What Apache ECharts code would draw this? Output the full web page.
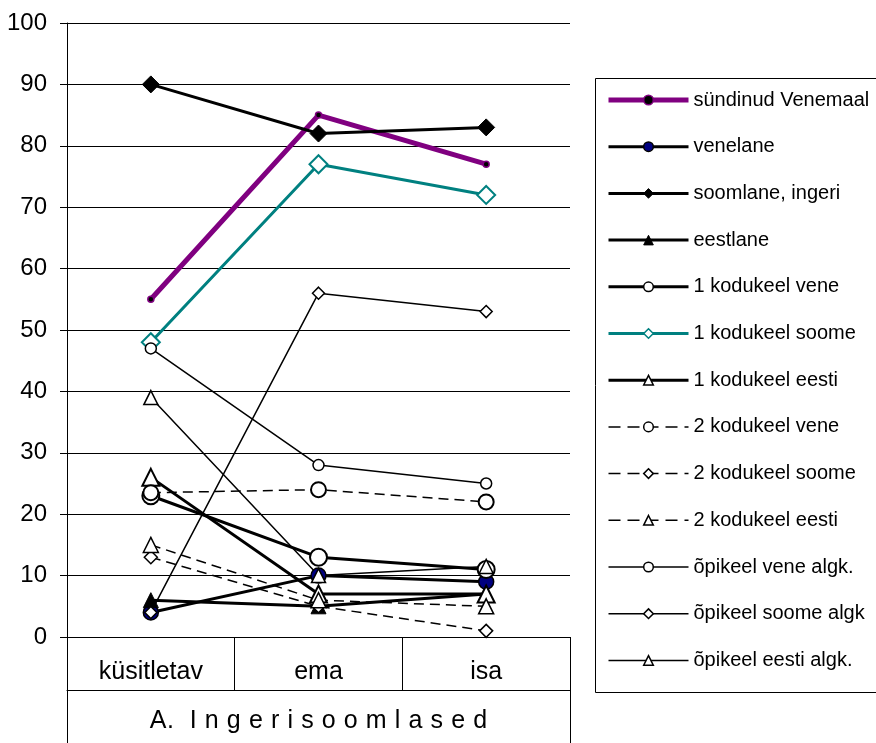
<!DOCTYPE html>
<html>
<head>
<meta charset="utf-8">
<script src="https://cdn.jsdelivr.net/npm/echarts@6/dist/echarts.min.js"></script>
<style>
  html, body { margin: 0; padding: 0; background: #fff; }
  #chart { width: 876px; height: 743px; }
</style>
</head>
<body>
<div id="chart"></div>
<script>
// Categories and group label
const categories = ['küsitletav', 'ema', 'isa'];
const groupLabel = ['A.  I n g e r i s o o m l a s e d'];
const yTicks = [0, 10, 20, 30, 40, 50, 60, 70, 80, 90, 100];

// Series values (%)
const sundinudVenemaal = [55, 85, 77];
const venelane         = [4, 10, 9];
const soomlaneIngeri   = [90, 82, 83];
const eestlane         = [6, 5, 7];
const kodukeel1Vene    = [23, 13, 11];
const kodukeel1Soome   = [48, 77, 72];
const kodukeel1Eesti   = [26, 7, 7];
const kodukeel2Vene    = [23.5, 24, 22];
const kodukeel2Soome   = [13, 5, 1];
const kodukeel2Eesti   = [15, 6, 5];
const opikeelVene      = [47, 28, 25];
const opikeelSoome     = [4, 56, 53];
const opikeelEesti     = [39, 10, 11.5];

const FONT = '"Liberation Sans", Arial, sans-serif';
const DASH = [10, 6];

const defs = [
  { name: 'sündinud Venemaal', data: sundinudVenemaal, color: '#800080', width: 5, symbol: 'circle', size: 6, fill: '#000', border: '#800080', bw: 1.5 },
  { name: 'venelane', data: venelane, color: '#000', width: 3, symbol: 'circle', size: 15, fill: '#000080', border: '#000', bw: 1.5 },
  { name: 'soomlane, ingeri', data: soomlaneIngeri, color: '#000', width: 3, symbol: 'diamond', size: 17, fill: '#000', border: '#000', bw: 1 },
  { name: 'eestlane', data: eestlane, color: '#000', width: 3, symbol: 'triangle', size: 15, fill: '#000', border: '#000', bw: 1 },
  { name: '1 kodukeel vene', data: kodukeel1Vene, color: '#000', width: 3, symbol: 'circle', size: 17, fill: '#fff', border: '#000', bw: 2 },
  { name: '1 kodukeel soome', data: kodukeel1Soome, color: '#008080', width: 3, symbol: 'diamond', size: 18, fill: '#fff', border: '#008080', bw: 2 },
  { name: '1 kodukeel eesti', data: kodukeel1Eesti, color: '#000', width: 3, symbol: 'triangle', size: 17, fill: '#fff', border: '#000', bw: 2 },
  { name: '2 kodukeel vene', data: kodukeel2Vene, color: '#000', width: 1.5, dash: true, symbol: 'circle', size: 15, fill: '#fff', border: '#000', bw: 2 },
  { name: '2 kodukeel soome', data: kodukeel2Soome, color: '#000', width: 1.5, dash: true, symbol: 'diamond', size: 13, fill: '#fff', border: '#000', bw: 1.5 },
  { name: '2 kodukeel eesti', data: kodukeel2Eesti, color: '#000', width: 1.5, dash: true, symbol: 'triangle', size: 15, fill: '#fff', border: '#000', bw: 1.5 },
  { name: 'õpikeel vene algk.', data: opikeelVene, color: '#000', width: 1.5, symbol: 'circle', size: 11, fill: '#fff', border: '#000', bw: 1.5 },
  { name: 'õpikeel soome algk', data: opikeelSoome, color: '#000', width: 1.5, symbol: 'diamond', size: 12, fill: '#fff', border: '#000', bw: 1.5 },
  { name: 'õpikeel eesti algk.', data: opikeelEesti, color: '#000', width: 1.5, symbol: 'triangle', size: 14, fill: '#fff', border: '#000', bw: 1.5 }
];

const series = defs.map(d => ({
  name: d.name,
  type: 'line',
  xAxisIndex: 0,
  yAxisIndex: 0,
  data: d.data,
  symbol: d.symbol,
  symbolSize: d.size,
  showSymbol: true,
  clip: false,
  lineStyle: { color: d.color, width: d.width, type: d.dash ? DASH : 'solid' },
  itemStyle: { color: d.fill, borderColor: d.border, borderWidth: d.bw },
  emphasis: { disabled: true }
}));

// Legend entries keep each series' own line weight and dash
const legendData = defs.map(d => ({
  name: d.name,
  lineStyle: { width: d.width, color: d.color, type: d.dash ? [12, 7] : 'solid' },
  itemStyle: { borderWidth: Math.min(d.bw, 1.5) }
}));

// Spread the letters of the group caption
function spaced(text) {
  return text.split('').map(ch => '{g|' + (ch === ' ' ? '\u00a0' : ch) + '}').join('');
}

const chart = echarts.init(document.getElementById('chart'));
chart.setOption({
  animation: false,
  backgroundColor: '#fff',
  textStyle: { fontFamily: FONT, color: '#000' },
  grid: { left: 67, right: 306, top: 23, bottom: 106, containLabel: false },
  legend: {
    orient: 'vertical',
    left: 606,
    top: 90,
    itemWidth: 80,
    itemHeight: 12,
    itemGap: 26.7,
    padding: 0,
    selectedMode: false,
    data: legendData,
    textStyle: { fontFamily: FONT, fontSize: 20, color: '#000', lineHeight: 20 }
  },
  xAxis: [
    {
      type: 'category',
      data: categories,
      boundaryGap: true,
      position: 'bottom',
      axisLine: { show: true, lineStyle: { color: '#000', width: 1 } },
      axisTick: { show: true, length: 53, interval: 0, lineStyle: { color: '#000', width: 1 } },
      axisLabel: { fontFamily: FONT, fontSize: 25, color: '#000', margin: 23, interval: 0 },
      splitLine: { show: false }
    },
    {
      type: 'category',
      data: groupLabel,
      boundaryGap: true,
      position: 'bottom',
      offset: 53,
      axisLine: { show: true, lineStyle: { color: '#000', width: 1 } },
      axisTick: { show: true, length: 53, lineStyle: { color: '#000', width: 1 } },
      axisLabel: {
        fontFamily: FONT, fontSize: 25, color: '#000', margin: 19,
        formatter: v => spaced(v),
        rich: { g: { fontFamily: FONT, fontSize: 25, color: '#000', padding: [0, 0.3, 0, 0.3] } }
      },
      splitLine: { show: false }
    }
  ],
  yAxis: {
    type: 'value',
    min: yTicks[0],
    max: yTicks[yTicks.length - 1],
    interval: 10,
    axisLine: { show: true, lineStyle: { color: '#000', width: 1 } },
    axisTick: { show: true, length: 7, lineStyle: { color: '#000' } },
    axisLabel: { fontFamily: FONT, fontSize: 24, color: '#000', margin: 20 },
    splitLine: { show: true, lineStyle: { color: '#000', width: 1 } }
  },
  graphic: [
    {
      type: 'rect',
      left: 593,
      top: 76,
      shape: { width: 320, height: 614 },
      style: { fill: 'none', stroke: '#000', lineWidth: 1 },
      silent: true
    }
  ],
  series: series
});
</script>
</body>
</html>
